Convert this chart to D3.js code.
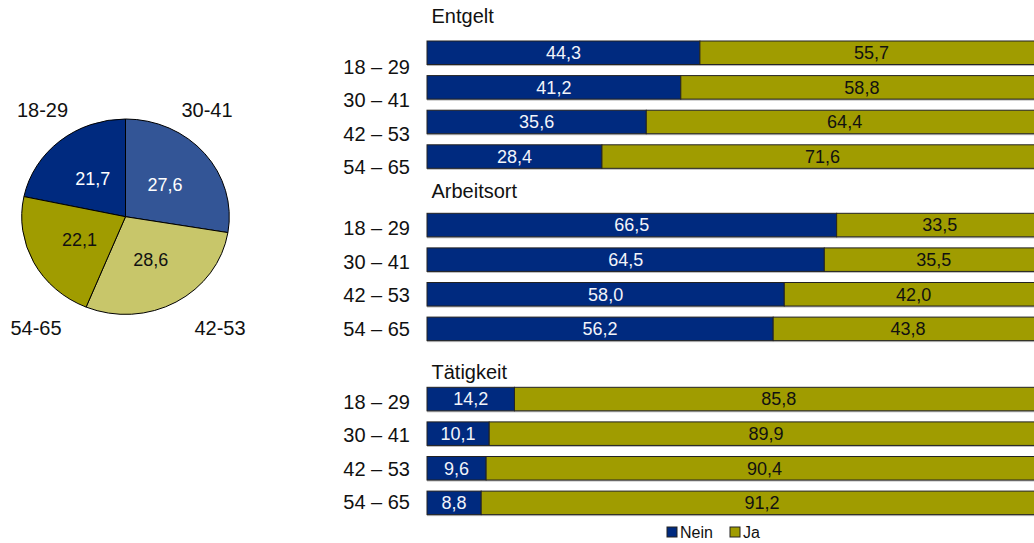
<!DOCTYPE html>
<html><head><meta charset="utf-8">
<script src="https://cdn.jsdelivr.net/npm/d3@7"></script>
<style>body{margin:0;background:#fff;} svg{display:block;font-family:"Liberation Sans",Arial,sans-serif;}</style>
</head><body><svg width="1034" height="543"></svg>
<script>
// ---- data ----
const pieLabels = ["18-29", "30-41", "42-53", "54-65"];
const pieValues = [21.7, 27.6, 28.6, 22.1];
const ageGroups = ["18 – 29", "30 – 41", "42 – 53", "54 – 65"];
const panels = ["Entgelt", "Arbeitsort", "Tätigkeit"];
const series = ["Nein", "Ja"];
const neinEntgelt = [44.3, 41.2, 35.6, 28.4];
const jaEntgelt = [55.7, 58.8, 64.4, 71.6];
const neinArbeitsort = [66.5, 64.5, 58.0, 56.2];
const jaArbeitsort = [33.5, 35.5, 42.0, 43.8];
const neinTaetigkeit = [14.2, 10.1, 9.6, 8.8];
const jaTaetigkeit = [85.8, 89.9, 90.4, 91.2];

// ---- styles ----
const pieColors = ["#002A7F", "#335596", "#C8C66A", "#A09C00"];
const pieTextColors = ["#fff", "#fff", "#111", "#111"];
const seriesColors = ["#002A7F", "#A09C00"];
const seriesText = ["#F2F4FA", "#111"];

const svg = d3.select("svg");
const loc = d3.formatLocale({decimal: ",", thousands: ".", grouping: [3], currency: ["", "€"]});
const fmt = loc.format(".1f");

// ---- pie ----
const cx = 125.5, cy = 216.7, rx = 103.8, ry = 97.7;
const sy = ry / rx;
const total = d3.sum(pieValues);
const start = -2 * Math.PI * pieValues[0] / total;
const pie = d3.pie().sort(null).startAngle(start).endAngle(start + 2 * Math.PI);
const arcs = pie(pieValues);
const arc = d3.arc().innerRadius(0).outerRadius(rx);
const pg = svg.append("g").attr("transform", `translate(${cx},${cy}) scale(1,${sy})`);
pg.selectAll("path").data(arcs).join("path")
  .attr("d", arc)
  .attr("fill", (d, i) => pieColors[i])
  .attr("stroke", "#000")
  .attr("stroke-width", 1)
  .attr("vector-effect", "non-scaling-stroke");
svg.append("g").selectAll("text").data(arcs).join("text")
  .attr("x", d => cx + arc.centroid(d)[0])
  .attr("y", d => cy + arc.centroid(d)[1] * sy)
  .attr("dy", "0.35em")
  .attr("text-anchor", "middle")
  .attr("font-size", 18)
  .attr("fill", (d, i) => pieTextColors[i])
  .text(d => fmt(d.data));
// outer labels at the four corners
const cornerOffsets = [[-83, -100], [81.5, -100], [94.5, 118.3], [-89.5, 118.3]];
svg.append("g").selectAll("text").data(pieLabels).join("text")
  .attr("x", (d, i) => cx + cornerOffsets[i][0])
  .attr("y", (d, i) => cy + cornerOffsets[i][1])
  .attr("text-anchor", "middle")
  .attr("font-size", 20)
  .attr("fill", "#111")
  .text(d => d);

// ---- bars ----
const panelData = [
  [neinEntgelt, jaEntgelt],
  [neinArbeitsort, jaArbeitsort],
  [neinTaetigkeit, jaTaetigkeit]
];
const barTops = [41, 213.3, 387.3];
const labelFirst = [66.7, 228.3, 401.8];
const titleBase = [22.7, 198.3, 379.3];
const step = 34.6, pad = 0.32, labelStep = 33.4;

const x = d3.scaleLinear().domain([0, 100]).range([427, 1043]);

panels.forEach((title, p) => {
  const g = svg.append("g");
  const r0 = barTops[p] - step * pad;
  const y = d3.scaleBand().domain(ageGroups).range([r0, r0 + step * (ageGroups.length + pad)]).padding(pad);
  const yl = d3.scalePoint().domain(ageGroups).range([labelFirst[p], labelFirst[p] + labelStep * (ageGroups.length - 1)]);

  g.append("text").attr("x", 431.5).attr("y", titleBase[p])
    .attr("font-size", 20).attr("fill", "#111").text(title);

  g.selectAll("text.age").data(ageGroups).join("text").attr("class", "age")
    .attr("x", 410).attr("y", d => yl(d)).attr("dy", "0.35em")
    .attr("text-anchor", "end").attr("font-size", 20).attr("fill", "#111")
    .text(d => d);

  const rows = ageGroups.map((a, i) => {
    const n = panelData[p][0][i], j = panelData[p][1][i];
    return [{age: a, s: 0, x0: 0, x1: n, v: n}, {age: a, s: 1, x0: n, x1: n + j, v: j}];
  }).flat();

  // light shadow under each bar
  g.selectAll("rect.sh").data(ageGroups).join("rect").attr("class", "sh")
    .attr("x", x(0)).attr("y", d => y(d) + y.bandwidth())
    .attr("width", x(100) - x(0)).attr("height", 1.5)
    .attr("fill", "#bbb");

  g.selectAll("rect.bar").data(rows).join("rect").attr("class", "bar")
    .attr("x", d => x(d.x0)).attr("y", d => y(d.age))
    .attr("width", d => x(d.x1) - x(d.x0)).attr("height", y.bandwidth())
    .attr("fill", d => seriesColors[d.s])
    .attr("stroke", "#222").attr("stroke-width", 1);

  g.selectAll("text.val").data(rows).join("text").attr("class", "val")
    .attr("x", d => (x(d.x0) + x(d.x1)) / 2)
    .attr("y", d => y(d.age) + y.bandwidth() / 2).attr("dy", "0.35em")
    .attr("text-anchor", "middle").attr("font-size", 18)
    .attr("fill", d => seriesText[d.s])
    .text(d => fmt(d.v));
});

// ---- legend ----
const legendX = [667, 730];
const lg = svg.append("g");
series.forEach((s, i) => {
  lg.append("rect").attr("x", legendX[i]).attr("y", 527).attr("width", 10).attr("height", 10)
    .attr("fill", seriesColors[i]).attr("stroke", "#222").attr("stroke-width", 1);
  lg.append("text").attr("x", legendX[i] + 13).attr("y", 537.5)
    .attr("font-size", 16).attr("fill", "#111").text(s);
});
</script>
</body></html>
